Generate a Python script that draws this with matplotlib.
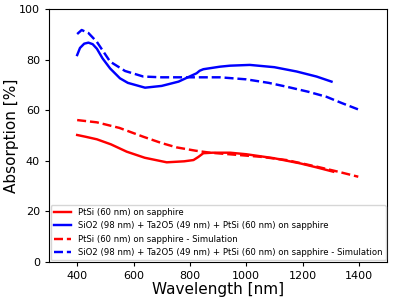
import matplotlib.pyplot as plt

# Measured absorption, PtSi on sapphire
wl_ptsi = [400, 430, 470, 520, 576, 640, 718, 780, 813, 830, 848, 880, 943, 1000, 1100, 1191, 1250, 1309]
abs_ptsi = [50.2, 49.5, 48.5, 46.5, 43.6, 41.2, 39.4, 39.8, 40.3, 41.5, 43.0, 43.2, 43.2, 42.6, 41.0, 39.0, 37.4, 35.7]

# Measured absorption, SiO2 + Ta2O5 + PtSi stack
wl_stack = [400, 410, 425, 440, 455, 470, 490, 517, 552, 580, 641, 700, 760, 824, 835, 848, 907, 943, 1013, 1100, 1179, 1250, 1303]
abs_stack = [81.8, 84.6, 86.3, 86.7, 86.1, 84.3, 80.5, 76.5, 72.6, 70.8, 68.9, 69.6, 71.3, 74.6, 75.6, 76.2, 77.2, 77.6, 77.9, 77.0, 75.3, 73.3, 71.3]

# Simulation, PtSi on sapphire
wl_sim = [400, 470, 550, 635, 700, 753, 820, 872, 950, 1050, 1143, 1250, 1330, 1398]
abs_ptsi_sim = [56.1, 55.2, 53.0, 49.5, 47.0, 45.3, 44.0, 43.2, 42.5, 41.6, 40.3, 37.7, 35.6, 33.7]

# Simulation, stack
wl_stack_sim = [400, 416, 440, 470, 517, 570, 635, 700, 800, 907, 1000, 1080, 1143, 1220, 1285, 1340, 1398]
abs_stack_sim = [90.1, 91.7, 90.5, 87.0, 79.2, 75.5, 73.3, 73.0, 73.0, 73.0, 72.2, 70.8, 69.3, 67.3, 65.3, 62.8, 60.3]

labels = [
    "PtSi (60 nm) on sapphire",
    "SiO2 (98 nm) + Ta2O5 (49 nm) + PtSi (60 nm) on sapphire",
    "PtSi (60 nm) on sapphire - Simulation",
    "SiO2 (98 nm) + Ta2O5 (49 nm) + PtSi (60 nm) on sapphire - Simulation",
]

fig = plt.figure(figsize=(3.95, 3.01), dpi=100)
ax = fig.add_axes([49 / 395, 39 / 301, 338 / 395, 253 / 301])

ax.plot(wl_ptsi, abs_ptsi, color="red", lw=1.75, label=labels[0])
ax.plot(wl_stack, abs_stack, color="blue", lw=1.75, label=labels[1])
ax.plot(wl_sim, abs_ptsi_sim, color="red", lw=1.75, ls="--", label=labels[2])
ax.plot(wl_stack_sim, abs_stack_sim, color="blue", lw=1.75, ls="--", label=labels[3])

ax.set_xlim(300, 1500)
ax.set_ylim(0, 100)
ax.set_xticks([400, 600, 800, 1000, 1200, 1400])
ax.set_yticks([0, 20, 40, 60, 80, 100])
ax.tick_params(labelsize=8, length=3)
ax.set_xlabel("Wavelength [nm]", fontsize=11, labelpad=1)
ax.set_ylabel("Absorption [%]", fontsize=11, labelpad=0)
ax.legend(loc="lower left", fontsize=6.1, borderaxespad=0.2)

fig.savefig("out.png", dpi=100)
